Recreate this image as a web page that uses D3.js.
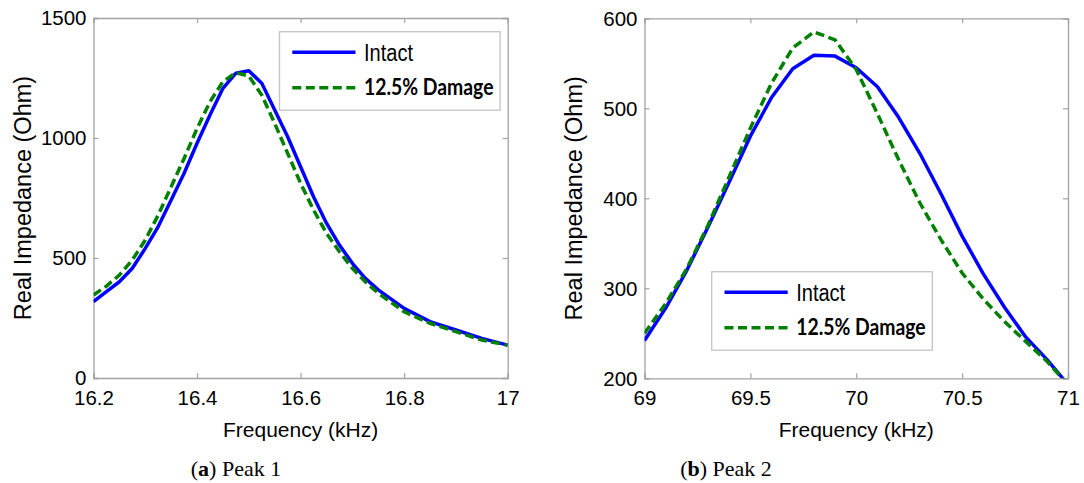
<!DOCTYPE html>
<html>
<head>
<meta charset="utf-8">
<script src="https://cdn.jsdelivr.net/npm/d3@7"></script>
<style>
  html, body { margin: 0; padding: 0; background: #fff; }
  svg { display: block; }
</style>
</head>
<body>
<svg id="chart" width="1084" height="483"></svg>
<script>
// ---------- data ----------
const seriesNames = ["Intact", "12.5% Damage"];

// Peak 1
const freq1 = [16.2, 16.225, 16.25, 16.275, 16.3, 16.325, 16.35, 16.375, 16.4, 16.425,
               16.45, 16.475, 16.5, 16.525, 16.55, 16.575, 16.6, 16.625, 16.65, 16.675,
               16.7, 16.725, 16.75, 16.8, 16.85, 16.9, 16.95, 17.0];
const intact1 = [318, 360, 401, 457, 540, 631, 742, 853, 978, 1096,
                 1207, 1270, 1280, 1228, 1117, 1005, 880, 755, 645, 554,
                 478, 415, 367, 290, 235, 200, 165, 137];
const damage1 = [346, 383, 429, 492, 575, 679, 797, 915, 1040, 1151,
                 1235, 1272, 1258, 1179, 1061, 936, 811, 700, 603, 526,
                 457, 401, 353, 276, 228, 193, 158, 137];
const xTicks1 = [16.2, 16.4, 16.6, 16.8, 17];
const yTicks1 = [0, 500, 1000, 1500];

// Peak 2
const freq2 = [69.0, 69.1, 69.2, 69.3, 69.4, 69.5, 69.6, 69.7, 69.8, 69.9,
               70.0, 70.1, 70.2, 70.3, 70.4, 70.5, 70.6, 70.7, 70.8, 70.9, 71.0];
const intact2 = [242, 278, 320, 368, 418, 469, 512, 544, 559, 558,
                 545, 524, 490, 450, 405, 358, 316, 279, 246, 221, 193];
const damage2 = [250, 283, 322, 370, 424, 478, 528, 567, 585, 576,
                 543, 494, 443, 395, 354, 317, 288, 263, 241, 219, 193];
const xTicks2 = [69, 69.5, 70, 70.5, 71];
const yTicks2 = [200, 300, 400, 500, 600];

const captions = [["a", " Peak 1"], ["b", " Peak 2"]];

// ---------- drawing ----------
const svg = d3.select("#chart");
const SANS = "'Liberation Sans', Arial, sans-serif";
const AXIS_COLOR = "#a3a3a3";

const panels = [
  { id: "p1", x0: 93.5, x1: 507.7, yT: 18, yB: 378,
    xDom: [16.2, 17], yDom: [0, 1500], xTicks: xTicks1, yTicks: yTicks1,
    freq: freq1, intact: intact1, damage: damage1,
    legend: { x: 279.5, y: 31.7 }, caption: { x: 236, text: captions[0] } },
  { id: "p2", x0: 644.5, x1: 1068, yT: 18.3, yB: 378.3,
    xDom: [69, 71], yDom: [200, 600], xTicks: xTicks2, yTicks: yTicks2,
    freq: freq2, intact: intact2, damage: damage2,
    legend: { x: 711.7, y: 271.7 }, caption: { x: 726, text: captions[1] } }
];

panels.forEach(p => {
  const x = d3.scaleLinear().domain(p.xDom).range([p.x0, p.x1]);
  const y = d3.scaleLinear().domain(p.yDom).range([p.yB, p.yT]);
  const g = svg.append("g");

  svg.append("clipPath").attr("id", "clip-" + p.id)
    .append("rect").attr("x", p.x0).attr("y", p.yT)
    .attr("width", p.x1 - p.x0).attr("height", p.yB - p.yT);

  const tl = 5;
  const xb = d3.axisBottom(x).tickValues(p.xTicks).tickSize(-tl).tickPadding(12)
    .tickFormat(d => String(+d.toFixed(2)));
  const xt = d3.axisTop(x).tickValues(p.xTicks).tickSize(-tl).tickFormat("");
  const yl = d3.axisLeft(y).tickValues(p.yTicks).tickSize(-tl).tickPadding(7)
    .tickFormat(d => String(d));
  const yr = d3.axisRight(y).tickValues(p.yTicks).tickSize(-tl).tickFormat("");

  const gxb = g.append("g").attr("transform", `translate(0,${p.yB})`).call(xb);
  const gxt = g.append("g").attr("transform", `translate(0,${p.yT})`).call(xt);
  const gyl = g.append("g").attr("transform", `translate(${p.x0},0)`).call(yl);
  const gyr = g.append("g").attr("transform", `translate(${p.x1},0)`).call(yr);
  [gxb, gxt, gyl, gyr].forEach(a => {
    a.select(".domain").attr("stroke", AXIS_COLOR).attr("stroke-width", 1.3);
    a.selectAll(".tick line").attr("stroke", AXIS_COLOR).attr("stroke-width", 1.2);
    a.selectAll(".tick text").attr("fill", "#000").attr("font-family", SANS)
      .attr("font-size", "20.5px");
  });
  gxb.selectAll(".tick text").attr("dy", "0.71em").attr("y", 12.5);
  gyl.selectAll(".tick text").attr("dy", "0.33em");

  g.append("text").attr("x", (p.x0 + p.x1) / 2).attr("y", 437)
    .attr("text-anchor", "middle").attr("font-family", SANS).attr("font-size", "21px")
    .attr("fill", "#000").text("Frequency (kHz)");
  g.append("text")
    .attr("transform", `translate(${p.x0 - 62.5},${(p.yT + p.yB) / 2}) rotate(-90)`)
    .attr("text-anchor", "middle").attr("font-family", SANS).attr("font-size", "23.5px")
    .attr("fill", "#000").text("Real Impedance (Ohm)");

  const line = d3.line().x((d, i) => x(p.freq[i])).y(d => y(d));
  const lg = g.append("g").attr("clip-path", `url(#clip-${p.id})`);
  lg.append("path").datum(p.intact).attr("d", line)
    .attr("fill", "none").attr("stroke", "#0000ff").attr("stroke-width", 3.5)
    .attr("stroke-linejoin", "round");
  lg.append("path").datum(p.damage).attr("d", line)
    .attr("fill", "none").attr("stroke", "#008000").attr("stroke-width", 3.5)
    .attr("stroke-dasharray", "9,4.5");

  const L = g.append("g").attr("transform", `translate(${p.legend.x},${p.legend.y})`);
  L.append("rect").attr("x", 0).attr("y", 0).attr("width", 220.6).attr("height", 78.5)
    .attr("fill", "#fff").attr("stroke", "#c4c4c4").attr("stroke-width", 1.3);
  L.append("line").attr("x1", 12.8).attr("x2", 76).attr("y1", 20.6).attr("y2", 20.6)
    .attr("stroke", "#0000ff").attr("stroke-width", 3.5);
  L.append("line").attr("x1", 12.8).attr("x2", 76).attr("y1", 56).attr("y2", 56)
    .attr("stroke", "#008000").attr("stroke-width", 3.5).attr("stroke-dasharray", "9,4.5");
  L.append("text").attr("x", 84.5).attr("y", 29.8)
    .attr("font-family", SANS).attr("font-size", "23px").attr("fill", "#000")
    .attr("textLength", 49).attr("lengthAdjust", "spacingAndGlyphs").text(seriesNames[0]);
  L.append("text").attr("x", 84.5).attr("y", 63.3)
    .attr("font-family", "Lato, 'Open Sans', sans-serif").attr("font-weight", "bold")
    .attr("font-size", "22px").attr("fill", "#000")
    .attr("textLength", 129.5).attr("lengthAdjust", "spacingAndGlyphs").text(seriesNames[1]);

  const c = g.append("text").attr("x", p.caption.x).attr("y", 476)
    .attr("text-anchor", "middle")
    .attr("font-family", "'Palatino Linotype', 'Book Antiqua', Palatino, 'Liberation Serif', serif")
    .attr("font-size", "22px").attr("fill", "#000");
  c.append("tspan").text("(");
  c.append("tspan").attr("font-weight", "bold").text(p.caption.text[0]);
  c.append("tspan").text(")" + p.caption.text[1]);
});
</script>
</body>
</html>
